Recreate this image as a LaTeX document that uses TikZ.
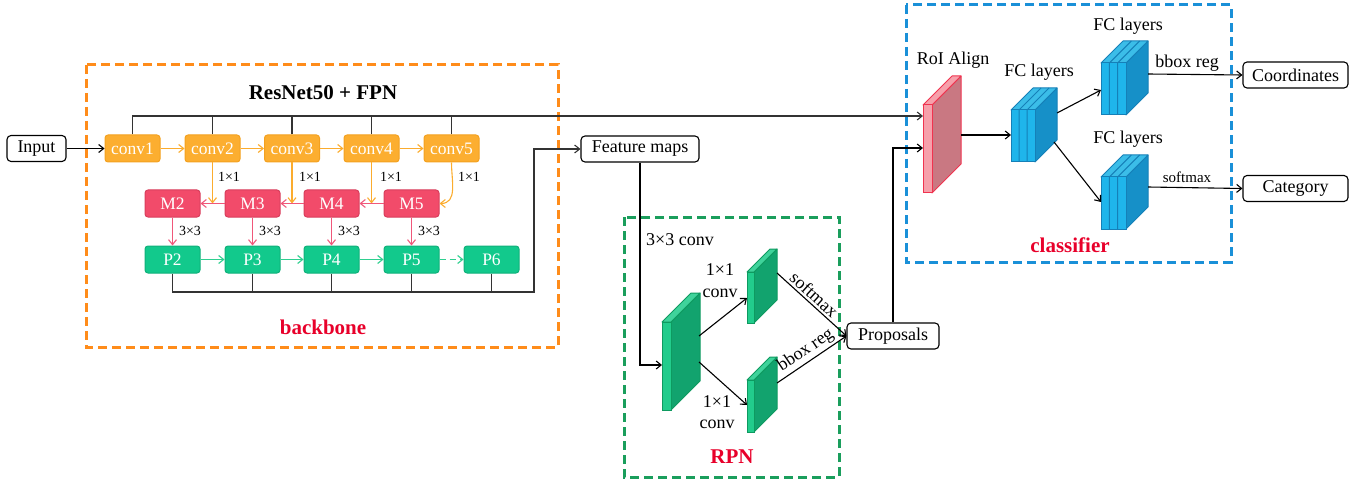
\documentclass[tikz,border=0pt]{standalone}
\usepackage{fontspec}
\setmainfont{Liberation Serif}
\usetikzlibrary{arrows.meta}

% box colours
\definecolor{convfill}{HTML}{FCAE30}
\definecolor{convline}{HTML}{F3A120}
\definecolor{mfill}{HTML}{F24B6A}
\definecolor{mline}{HTML}{D83E5C}
\definecolor{pfill}{HTML}{12C98C}
\definecolor{pline}{HTML}{0FB07A}
% connector colours
\definecolor{orarrow}{HTML}{FBAC2E}
\definecolor{pkarrow}{HTML}{F0577A}
\definecolor{grarrow}{HTML}{2FCF90}
% frame colours
\definecolor{frameor}{HTML}{FF8C1A}
\definecolor{framegr}{HTML}{1A9E5C}
\definecolor{framebl}{HTML}{1A90D8}
\definecolor{titlered}{HTML}{E8002A}
% slab colours
\definecolor{greenfront}{HTML}{22CC8C}
\definecolor{greenside}{HTML}{12A36E}
\definecolor{greentop}{HTML}{3FD39B}
\definecolor{greenedge}{HTML}{0E9A60}
\definecolor{bluefront}{HTML}{1FB5EB}
\definecolor{blueside}{HTML}{1690C8}
\definecolor{bluetop}{HTML}{3BBDE8}
\definecolor{blueedge}{HTML}{1580B8}
\definecolor{pinkfront}{HTML}{F6A0AB}
\definecolor{pinkside}{HTML}{C97882}
\definecolor{pinktop}{HTML}{F6A0AB}
\definecolor{pinkedge}{HTML}{F0334F}

% 3-D slab: left x, top y, front width, height, depth, colour set
\newcommand\slab[6]{%
  \filldraw[draw=#6edge, fill=#6side, line join=round, line width=1pt]
    (#1+#3,#2) -- ++(#5,-#5) -- ++(0,#4) -- ++(-#5,#5) -- cycle;
  \filldraw[draw=#6edge, fill=#6top, line join=round, line width=1pt]
    (#1,#2) -- ++(#3,0) -- ++(#5,-#5) -- ++(-#3,0) -- cycle;
  \filldraw[draw=#6edge, fill=#6front, line width=1pt]
    (#1,#2) rectangle ++(#3,#4);
}
% three stacked plates on a slab front
\newcommand\plates[5]{%
  \draw[blueedge, line width=1pt] (#1+#3/3,#2+#4) -- (#1+#3/3,#2) -- ++(#5,-#5)
    (#1+2*#3/3,#2+#4) -- (#1+2*#3/3,#2) -- ++(#5,-#5);
}

\begin{document}
\begin{tikzpicture}[x=1pt, y=-1pt,
  txt/.style={font=\rmfamily\fontsize{18}{20}\selectfont, inner sep=0pt},
  small/.style={font=\rmfamily\fontsize{14}{16}\selectfont, inner sep=0pt},
  heading/.style={font=\rmfamily\fontsize{21}{24}\selectfont\bfseries, inner sep=0pt},
  redhead/.style={heading, text=titlered},
  io/.style={draw=black, line width=1.1pt, rounded corners=4pt, fill=white,
    minimum height=26pt, inner sep=0pt, font=\rmfamily\fontsize{18}{20}\selectfont},
  layer/.style={rounded corners=3pt, line width=1pt, minimum width=55pt,
    minimum height=27pt, inner sep=0pt, text=white, font=\rmfamily\fontsize{17.5}{20}\selectfont},
  convbox/.style={layer, fill=convfill, draw=convline},
  mbox/.style={layer, fill=mfill, draw=mline},
  pbox/.style={layer, fill=pfill, draw=pline},
  arr/.style={-{Straight Barb[length=5pt,width=8pt]}, line width=1.1pt},
  wire/.style={line width=1.3pt, draw=black!80},
  frame/.style={line width=3pt, dash pattern=on 9pt off 5pt},
]
\useasboundingbox (0,0) rectangle (1367,481);

% dashed frames
\draw[frame, frameor] (86,65) rectangle (558,347);
\draw[frame, framegr] (624,217) rectangle (839,477);
\draw[frame, framebl] (906,5) rectangle (1231,262);

% ---------------- backbone ----------------
\node[heading] (title) at (323,93) {ResNet50 + FPN};
\node[redhead] (bbl) at (323,327) {backbone};

\node[io, minimum width=59pt] (input) at (36.5,148.5) {Input};

\node[convbox] (c1) at (132.5,148.5) {conv1};
\node[convbox] (c2) at (212.5,148.5) {conv2};
\node[convbox] (c3) at (292,148.5) {conv3};
\node[convbox] (c4) at (371.5,148.5) {conv4};
\node[convbox] (c5) at (451.5,148.5) {conv5};

\node[mbox] (m2) at (172.5,203.5) {M2};
\node[mbox] (m3) at (252.5,203.5) {M3};
\node[mbox] (m4) at (331.5,203.5) {M4};
\node[mbox] (m5) at (411.5,203.5) {M5};

\node[pbox] (p2) at (172.5,259.5) {P2};
\node[pbox] (p3) at (252.5,259.5) {P3};
\node[pbox] (p4) at (331.5,259.5) {P4};
\node[pbox] (p5) at (411.5,259.5) {P5};
\node[pbox] (p6) at (491.5,259.5) {P6};

\draw[arr] (input) -- (c1);
\draw[arr, orarrow] (c1) -- (c2);
\draw[arr, orarrow] (c2) -- (c3);
\draw[arr, orarrow] (c3) -- (c4);
\draw[arr, orarrow] (c4) -- (c5);

% lateral 1x1 connections
\draw[arr, orarrow] (c2.south) -- (c2.south |- m2.east);
\draw[arr, orarrow] (c3.south) -- (c3.south |- m3.east);
\draw[arr, orarrow] (c4.south) -- (c4.south |- m4.east);
\draw[arr, orarrow] (c5.south) to[out=-90, in=0, looseness=1.1] (m5.east);
\node[small] (l2) at (229,177) {1×1};
\node[small] (l3) at (310,177) {1×1};
\node[small] (l4) at (391,177) {1×1};
\node[small] (l5) at (469,177) {1×1};

% top-down path
\draw[arr, pkarrow] (m5) -- (m4);
\draw[arr, pkarrow] (m4) -- (m3);
\draw[arr, pkarrow] (m3) -- (m2);

\foreach \k in {2,3,4,5}{
  \draw[arr, pkarrow] (m\k) -- (p\k);
}
\node[small] (s2) at (190,231) {3×3};
\node[small] (s3) at (270,231) {3×3};
\node[small] (s4) at (349,231) {3×3};
\node[small] (s5) at (429,231) {3×3};

\draw[arr, grarrow] (p2) -- (p3);
\draw[arr, grarrow] (p3) -- (p4);
\draw[arr, grarrow] (p4) -- (p5);
\draw[arr, grarrow, dash pattern=on 6pt off 4pt] (p5) -- (p6);

% ---------------- feature maps ----------------
\node[io, minimum width=118pt] (fm) at (640,149) {Feature maps};

\coordinate (busR) at (534,292);
\draw[wire, arr] (p2.south) |- (busR) |- (fm.west);
\foreach \k in {3,4,5,6}{
  \draw[wire] (p\k.south) -- (p\k.south |- busR);
}

% ---------------- RPN ----------------
\slab{662}{322}{9}{88}{29}{green}
\slab{747}{272}{7}{51}{23}{green}
\slab{747}{380}{7}{52}{23}{green}

\coordinate (rpnin) at (662,365);
\coordinate (rpnA) at (699,336);
\coordinate (rpnB) at (699,362);
\coordinate (s1in) at (747,298);
\coordinate (s2in) at (747,405);
\coordinate (s1out) at (777,273);
\coordinate (s2out) at (777,383);

\node[io, minimum width=92pt] (prop) at (893,336) {Proposals};

\draw[arr] (fm.south) |- (rpnin);
\draw[arr] (rpnA) -- (s1in);
\draw[arr] (rpnB) -- (s2in);
\draw[arr] (s1out) -- node[sloped, above, txt, yshift=2pt, pos=0.45] {softmax} (prop.west);
\draw[arr] (s2out) -- node[sloped, above, txt, yshift=2pt, pos=0.5] {bbox reg} (prop.west);

\node[txt] (k3) at (680,240) {3×3 conv};
\node[txt] (u1) at (720,270) {1×1};
\node[txt] (u2) at (720,293) {conv};
\node[txt] (d1) at (717,402) {1×1};
\node[txt] (d2) at (717,424) {conv};
\node[redhead] (rpnl) at (732,457) {RPN};

% ---------------- classifier ----------------
\slab{923}{105}{9}{88}{29}{pink}
\slab{1011}{110}{24}{52}{22}{blue}
\plates{1011}{110}{24}{52}{22}
\slab{1101}{63}{25}{52}{22}{blue}
\plates{1101}{63}{25}{52}{22}
\slab{1101}{177}{25}{52}{22}{blue}
\plates{1101}{177}{25}{52}{22}

\coordinate (roiin1) at (923,116);
\coordinate (roiin2) at (923,148);
\coordinate (roiout) at (961,135);
\coordinate (fc1in) at (1011,135);
\coordinate (fc1A) at (1057,113);
\coordinate (fc1B) at (1054,142);
\coordinate (fc2in) at (1101,90);
\coordinate (fc3in) at (1101,202);
\coordinate (fc2out) at (1148,74);
\coordinate (fc3out) at (1148,187);

\draw[wire, arr] (c1.north) |- (roiin1);
\foreach \k in {2,3,4,5}{
  \draw[wire] (c\k.north) -- (c\k.north |- roiin1);
}
\draw[arr] (prop.north) |- (roiin2);
\draw[arr] (roiout) -- (fc1in);
\draw[arr] (fc1A) -- (fc2in);
\draw[arr] (fc1B) -- (fc3in);

\node[io, minimum width=105pt] (coord) at (1295.5,75) {Coordinates};
\node[io, minimum width=105pt] (cat) at (1295.5,188.5) {Category};

\draw[arr] (fc2out) -- (coord.west);
\draw[arr] (fc3out) -- (cat.west);

\node[txt] (roil) at (953,60) {RoI Align};
\node[txt] (fcl1) at (1039,72) {FC layers};
\node[txt] (fcl2) at (1128,26) {FC layers};
\node[txt] (fcl3) at (1128,139) {FC layers};
\node[txt] (bbr) at (1187,63) {bbox reg};
\node[font=\rmfamily\fontsize{15}{17}\selectfont, inner sep=0pt] (smx) at (1187,177) {softmax};
\node[redhead] (clsl) at (1070,245) {classifier};
\end{tikzpicture}
\end{document}
